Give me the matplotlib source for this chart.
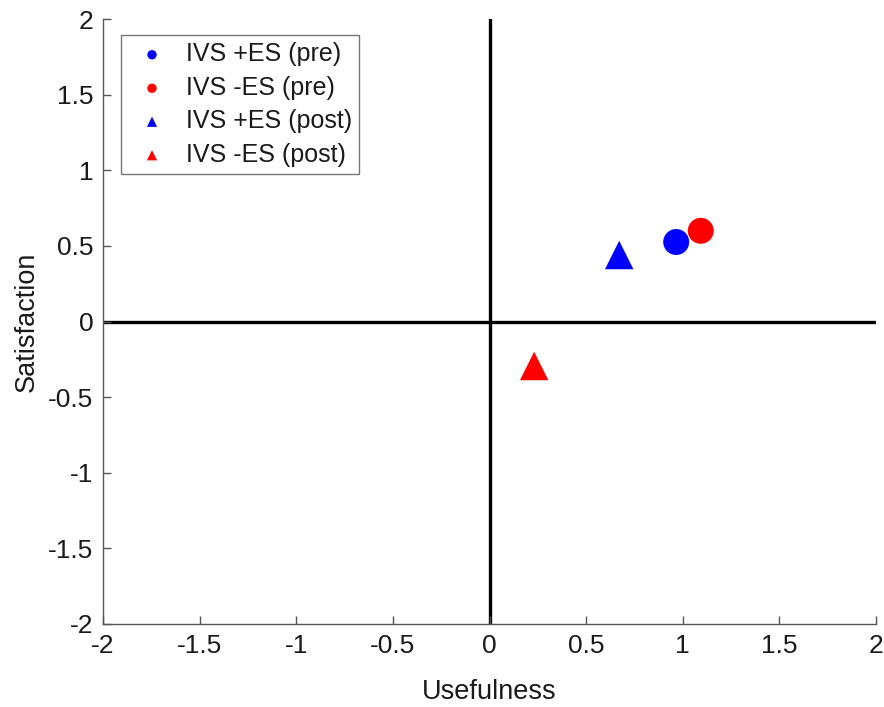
import matplotlib.pyplot as plt

plt.rcParams['font.family'] = ['Liberation Sans', 'DejaVu Sans']

labels = ['IVS +ES (pre)', 'IVS -ES (pre)', 'IVS +ES (post)', 'IVS -ES (post)']
usefulness = [0.966, 1.093, 0.671, 0.231]
satisfaction = [0.526, 0.600, 0.440, -0.294]
colors = ['blue', 'red', 'blue', 'red']
markers = ['o', 'o', '^', '^']
sizes = [350, 350, 420, 420]

ticks = [-2, -1.5, -1, -0.5, 0, 0.5, 1, 1.5, 2]
tick_labels = ['-2', '-1.5', '-1', '-0.5', '0', '0.5', '1', '1.5', '2']

fig = plt.figure(figsize=(8.84, 7.07), dpi=100)
ax = fig.add_axes([0.1165, 0.1174, 0.8745, 0.8556])

ax.axhline(0, color='black', lw=2.4, zorder=1)
ax.axvline(0, color='black', lw=2.4, zorder=1)

for x, y, c, m, s, lab in zip(usefulness, satisfaction, colors, markers, sizes, labels):
    ax.scatter(x, y, s=s, c=c, marker=m, edgecolors='none', label=lab, zorder=3)

ax.set_xlim(-2, 2)
ax.set_ylim(-2, 2)
ax.set_xticks(ticks)
ax.set_xticklabels(tick_labels)
ax.set_yticks(ticks)
ax.set_yticklabels(tick_labels)

for side in ['top', 'right']:
    ax.spines[side].set_visible(False)
for side in ['left', 'bottom']:
    ax.spines[side].set_color('#555555')
    ax.spines[side].set_linewidth(1.0)
ax.tick_params(direction='in', length=6, width=1, colors='#555555',
               labelcolor='#1a1a1a', labelsize=19, pad=7)

ax.set_xlabel('Usefulness', fontsize=19.5, color='#1a1a1a', labelpad=15)
ax.set_ylabel('Satisfaction', fontsize=19.5, color='#1a1a1a', labelpad=6)

leg = ax.legend(loc='upper left', bbox_to_anchor=(0.023, 0.974), borderaxespad=0,
                fontsize=18, markerscale=0.36, fancybox=False, edgecolor='#555555',
                handletextpad=0.4, labelspacing=0.38, borderpad=0.3,
                handlelength=1.9, scatterpoints=1)
leg.get_frame().set_linewidth(1.0)
for t in leg.get_texts():
    t.set_color('#1a1a1a')

plt.savefig('out.png', dpi=100)
